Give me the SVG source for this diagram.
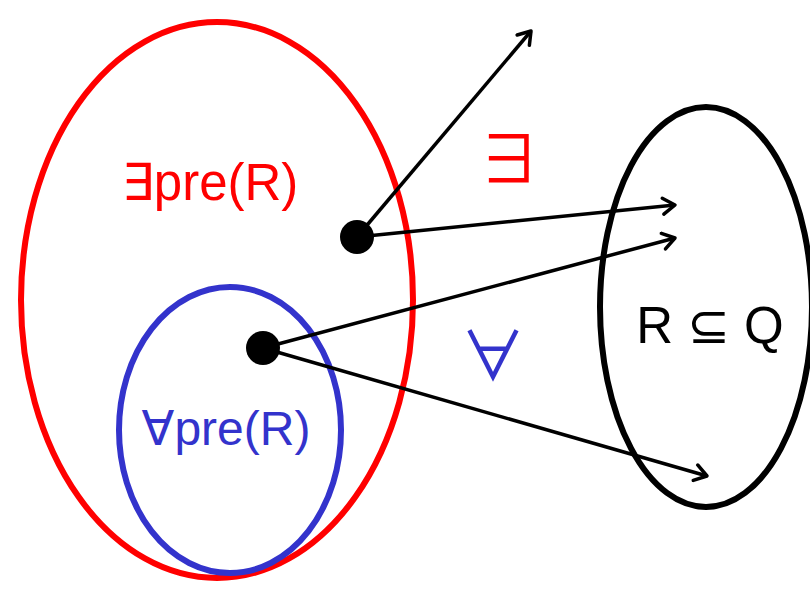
<svg xmlns="http://www.w3.org/2000/svg" width="810" height="594" viewBox="0 0 810 594">
<defs>
<style>
.set{fill:none;stroke-width:6}
.lbl{font-family:"Liberation Sans","DejaVu Sans",Arial,sans-serif}
.sym{font-family:"Noto Sans CJK JP","DejaVu Sans",sans-serif}
.conn line{stroke:#000;stroke-width:3.5;marker-end:url(#arr)}
</style>
<marker id="arr" viewBox="0 0 20 20" refX="17" refY="10" markerWidth="20" markerHeight="20" markerUnits="userSpaceOnUse" orient="auto">
<path d="M5,2 L17,10 L5,18" fill="none" stroke="#000" stroke-width="3.5" stroke-linecap="round" stroke-linejoin="round"/>
</marker>
</defs>
<rect width="810" height="594" fill="#fff"/>
<g id="exists-pre">
<ellipse class="set" cx="217" cy="300" rx="196" ry="278" stroke="#ff0000"/>
<text class="lbl" x="210" y="200" font-size="51" fill="#ff0000" text-anchor="middle">∃pre(R)</text>
</g>
<g id="forall-pre">
<ellipse class="set" cx="230" cy="430" rx="111" ry="143" stroke="#3333cc"/>
<text class="lbl" x="226" y="445" font-size="48" fill="#3333cc" text-anchor="middle">∀pre(R)</text>
</g>
<g id="target">
<ellipse class="set" cx="706" cy="307" rx="106" ry="200" stroke="#000"/>
<text class="lbl" x="710" y="343" font-size="51" fill="#000" text-anchor="middle">R ⊆ Q</text>
</g>
<g id="state-exists"><circle cx="357" cy="237" r="17" fill="#000"/></g>
<g id="state-forall"><circle cx="263" cy="348" r="17" fill="#000"/></g>
<g class="conn" id="connectors">
<line x1="357" y1="237" x2="531" y2="31"/>
<line x1="357" y1="237" x2="675" y2="205"/>
<line x1="263" y1="348" x2="675" y2="238"/>
<line x1="263" y1="348" x2="707" y2="476"/>
</g>
<text class="sym" x="509" y="183" font-size="66" fill="#ff0000" text-anchor="middle">∃</text>
<text class="sym" x="493" y="380" font-size="66" fill="#3333cc" text-anchor="middle">∀</text>
</svg>
